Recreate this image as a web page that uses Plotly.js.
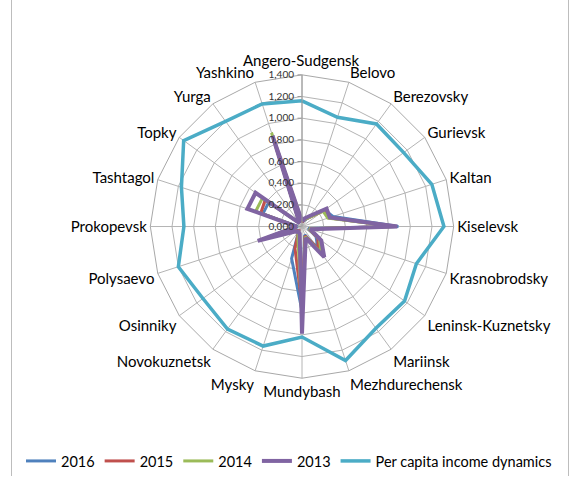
<!DOCTYPE html>
<html>
<head>
<meta charset="utf-8">
<script src="https://cdn.plot.ly/plotly-3.0.1.min.js"></script>
<style>html,body{margin:0;padding:0;background:#fff;}#chart{width:576px;height:477px;}</style>
</head>
<body>
<div id="chart"></div>
<script>
const categories = ["Angero-Sudgensk","Belovo","Berezovsky","Gurievsk","Kaltan","Kiselevsk","Krasnobrodsky","Leninsk-Kuznetsky","Mariinsk","Mezhdurechensk","Mundybash","Mysky","Novokuznetsk","Osinniky","Polysaevo","Prokopevsk","Tashtagol","Topky","Yurga","Yashkino"];
const v2016 = [0.04,0.06,0.10,0.26,0.30,0.89,0.06,0.16,0.25,0.08,0.78,0.31,0.05,0.06,0.35,0.04,0.38,0.38,0.04,0.82];
const v2015 = [0.04,0.07,0.10,0.25,0.26,0.86,0.07,0.18,0.26,0.09,0.73,0.21,0.05,0.07,0.36,0.05,0.40,0.42,0.04,0.84];
const v2014 = [0.05,0.07,0.10,0.24,0.25,0.87,0.07,0.20,0.30,0.10,0.85,0.12,0.06,0.07,0.38,0.05,0.45,0.45,0.04,0.91];
const v2013 = [0.05,0.08,0.12,0.28,0.27,0.88,0.08,0.22,0.35,0.11,0.99,0.07,0.06,0.08,0.43,0.05,0.53,0.53,0.04,0.88];
const income = [1.16,1.06,1.17,1.16,1.26,1.31,1.11,1.17,1.16,1.30,1.02,1.16,1.17,1.13,1.20,1.09,1.17,1.35,1.20,1.19];
const seriesNames = ["2016","2015","2014","2013","Per capita income dynamics"];
const seriesColors = ["#4F81BD","#C0504D","#9BBB59","#8064A2","#4BACC6"];
const seriesWidths = [3,3,3,4,3.5];

const allSeries = [v2016, v2015, v2014, v2013, income];
const closedCats = categories.concat([categories[0]]);
const traces = allSeries.map((vals, i) => ({
  type: "scatterpolar",
  mode: "lines",
  r: vals.concat([vals[0]]),
  theta: closedCats,
  name: seriesNames[i],
  line: {color: seriesColors[i], width: seriesWidths[i]},
  hoverinfo: "skip"
}));

const W = 576, H = 477;
const cx = 302, cy = 227, R = 152;
const layout = {
  width: W, height: H,
  margin: {l:0, r:0, t:0, b:0},
  paper_bgcolor: "#fff",
  separators: ", ",
  font: {family: "Lato, 'Open Sans', sans-serif", size: 15, color: "#000"},
  showlegend: true,
  legend: {
    orientation: "h", x: 289/W, xanchor: "center", y: 1 - 462/H, yanchor: "middle",
    font: {size: 14.5, color: "#000"}, bgcolor: "rgba(0,0,0,0)"
  },
  polar: {
    domain: {x: [(cx-R)/W, (cx+R)/W], y: [1-(cy+R)/H, 1-(cy-R)/H]},
    bgcolor: "#fff",
    gridshape: "linear",
    radialaxis: {
      range: [0, 1.4], tick0: 0, dtick: 0.2, tickformat: ".3f",
      angle: 90, side: "counterclockwise", tickangle: 90,
      showline: true, linecolor: "#9a9a9a", linewidth: 1,
      gridcolor: "#b4b4b4", gridwidth: 1,
      ticks: "outside", ticklen: 4, tickcolor: "#9a9a9a",
      tickfont: {size: 10, color: "#333"}
    },
    angularaxis: {
      direction: "clockwise", rotation: 90,
      tickmode: "array", tickvals: categories,
      ticktext: categories.map((c, i) => i === 0 ? "" : c),
      showline: true, linecolor: "#a8a8a8", linewidth: 1,
      gridcolor: "#b4b4b4", gridwidth: 1,
      ticks: "", tickfont: {size: 15, color: "#000"}
    }
  },
  annotations: [
    {xref: "paper", yref: "paper", x: 301/W, y: 1 - 60/H, xanchor: "center", yanchor: "middle",
     text: categories[0], showarrow: false, font: {size: 15, color: "#000"}}
  ],
  shapes: [
    {type: "line", xref: "paper", yref: "paper", x0: 11.5/W, x1: 11.5/W, y0: 0, y1: 1, line: {color: "#bdbdbd", width: 1}},
    {type: "line", xref: "paper", yref: "paper", x0: 568.5/W, x1: 568.5/W, y0: 0, y1: 1, line: {color: "#bdbdbd", width: 1}}
  ]
};
Plotly.newPlot("chart", traces, layout, {displayModeBar: false, staticPlot: true});
</script>
</body>
</html>
